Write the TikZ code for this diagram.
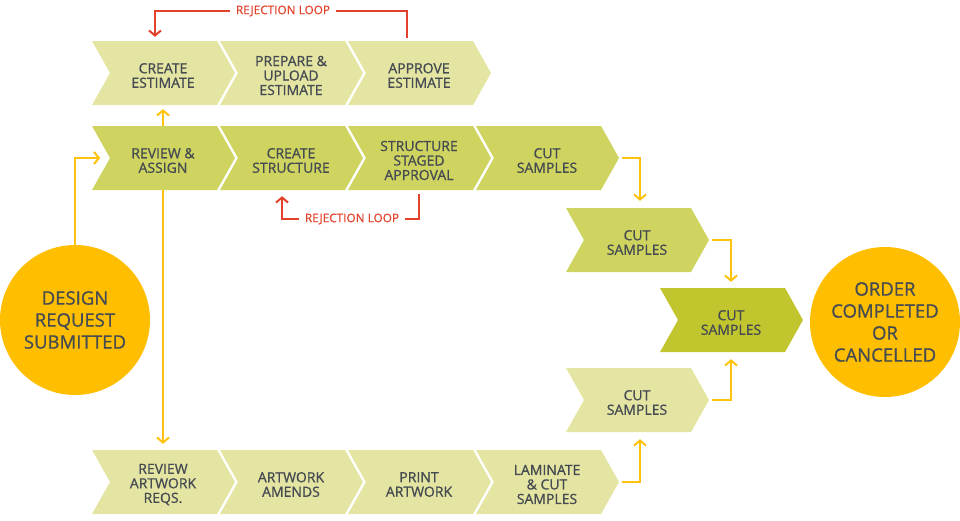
\documentclass[tikz,border=0pt]{standalone}
\usepackage{fontspec}
\setmainfont[RawFeature={embolden=0.9}]{Open Sans}
\usetikzlibrary{arrows.meta,backgrounds,calc}
\definecolor{cLight}{HTML}{E4E5A3}
\definecolor{cMid}{HTML}{CED45F}
\definecolor{cDark}{HTML}{C1C52E}
\definecolor{cCirc}{HTML}{FFBF00}
\definecolor{cText}{HTML}{454B51}
\definecolor{cRed}{HTML}{E2412B}
\definecolor{cYel}{HTML}{FFC20E}
\tikzset{
  chevbox/.style={minimum width=125pt, minimum height=64pt, inner sep=0pt},
  chevtext/.style={inner sep=0pt, align=center,
    text=cText, font=\fontsize{14}{14.5}\selectfont},
  circnode/.style={circle, fill=cCirc, minimum size=150pt, inner sep=0pt, align=center,
    text=cText, font=\fontsize{18.5}{22}\selectfont},
  redtext/.style={inner xsep=6pt, inner ysep=0pt, text=cRed, font=\fontsize{11.8}{13}\selectfont},
  yarrow/.style={draw=cYel, line width=2pt, -{Straight Barb[length=5pt,width=12pt]}},
  rarrow/.style={draw=cRed, line width=2pt, -{Straight Barb[length=5pt,width=12pt]}},
  rline/.style={draw=cRed, line width=2pt},
}
\newcommand\chev[5]{%
  \fill[#4] (#2,#3) -- ++(125,0) -- ++(18,32) -- ++(-18,32) -- ++(-125,0) -- ++(18,-32) -- cycle;
  \node[chevbox] (#1) at (#2+71,#3+32) {};
  \node[chevtext] (#1-t) at ([yshift=-2.5pt]#1.center) {#5};
}
\begin{document}
\begin{tikzpicture}[x=1pt,y=-1pt]
\useasboundingbox (0,0) rectangle (960,520);
% row 1
\chev{ce}{92}{41}{cLight}{CREATE\\ESTIMATE}
\chev{pue}{220}{41}{cLight}{PREPARE \&\\UPLOAD\\ESTIMATE}
\chev{ae}{348}{41}{cLight}{APPROVE\\ESTIMATE}
% row 2
\chev{ra}{92}{126}{cMid}{REVIEW \&\\ASSIGN}
\chev{cs}{220}{126}{cMid}{CREATE\\STRUCTURE}
\chev{ssa}{348}{126}{cMid}{STRUCTURE\\STAGED\\APPROVAL}
\chev{rs4}{476}{126}{cMid}{CUT\\SAMPLES}
% middle
\chev{mu}{566}{208}{cMid}{CUT\\SAMPLES}
\chev{cc}{660}{288}{cDark}{CUT\\SAMPLES}
\chev{ml}{566}{368}{cLight}{CUT\\SAMPLES}
% bottom row
\chev{rar}{92}{450}{cLight}{REVIEW\\ARTWORK\\REQS.}
\chev{aa}{220}{450}{cLight}{ARTWORK\\AMENDS}
\chev{pa}{348}{450}{cLight}{PRINT\\ARTWORK}
\chev{br4}{476}{450}{cLight}{LAMINATE\\\& CUT\\SAMPLES}
% circles
\node[circnode] (dr) at (75,320) {DESIGN\\REQUEST\\SUBMITTED};
\node[circnode] (oc) at (885,322) {ORDER\\COMPLETED\\OR\\CANCELLED};
% red loops
\node[redtext] (rl1) at (283,11) {REJECTION LOOP};
\draw[rline] ([xshift=-12pt,yshift=3pt]ae.north) |- (rl1.east);
\draw[rarrow] (rl1.west) -| ([xshift=-8pt,yshift=4pt]ce.north);
\node[redtext] (rl2) at (352,219) {REJECTION LOOP};
\draw[rline] ([yshift=-4pt]ssa.south) |- (rl2.east);
\draw[rarrow] (rl2.west) -| ([xshift=-9pt,yshift=-6pt]cs.south);
% yellow connectors
\begin{pgfonlayer}{background}
\draw[yarrow] (dr.north) |- (ra.west);
\draw[yarrow] (ra.center) -- ([yshift=-4pt]ce.south);
\draw[yarrow] (ra.center) -- ([yshift=6pt]rar.north);
\draw[yarrow] ([xshift=12pt]rs4.east) -| ([xshift=3pt,yshift=7pt]mu.north);
\draw[yarrow] ([xshift=12pt]mu.east) -| ([yshift=6pt]cc.north);
\draw[yarrow] ([xshift=12pt]ml.east) -| ([yshift=-7pt]cc.south);
\draw[yarrow] ([xshift=12pt]br4.east) -| ([xshift=3pt,yshift=-7pt]ml.south);
\end{pgfonlayer}
\end{tikzpicture}
\end{document}
